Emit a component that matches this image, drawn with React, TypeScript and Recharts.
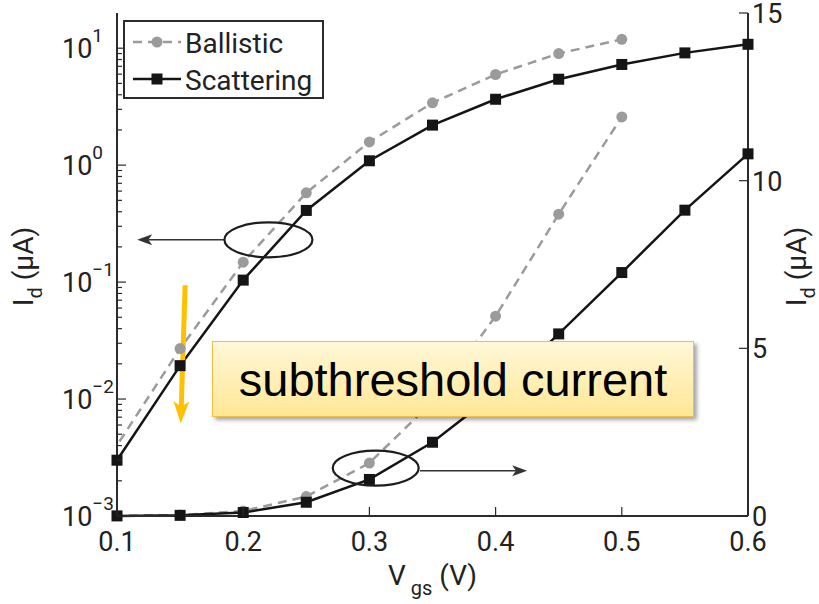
import React from 'react';
import { LineChart, Line, XAxis, YAxis, ReferenceDot, ReferenceLine } from 'recharts';

// gate voltage (V) and drain current (uA); each series is drawn on the log (left)
// and the linear (right) axis
const vgs = [0.1, 0.15, 0.2, 0.25, 0.3, 0.35, 0.4, 0.45, 0.5, 0.55, 0.6];
const scattering = [0.003, 0.0193, 0.104, 0.41, 1.09, 2.2, 3.66, 5.43, 7.26, 9.12, 10.8];
// ballistic run starts left of the plotted range, its first segment is clipped
const ballisticVgs = [0.05, 0.15, 0.2, 0.25, 0.3, 0.35, 0.4, 0.45, 0.5];
const ballistic = [0.0006, 0.027, 0.148, 0.58, 1.58, 3.41, 5.96, 9.0, 11.9];

const xTicks = [0.1, 0.2, 0.3, 0.4, 0.5, 0.6];
const logMajor = [0.001, 0.01, 0.1, 1, 10];
const logExp = ['\u22123', '\u22122', '\u22121', '0', '1'];
const linTicks = [0, 5, 10, 15];

const X_DOMAIN: [number, number] = [0.1, 0.6];
const LOG_DOMAIN: [number, number] = [0.001, 20];
const LIN_DOMAIN: [number, number] = [0, 15];
const logMinor = logMajor
  .flatMap(d => [2, 3, 4, 5, 6, 7, 8, 9].map(k => +(k * d).toPrecision(3)))
  .filter(v => v < LOG_DOMAIN[1]);
const logTicks = [...logMajor, ...logMinor].sort((a, b) => a - b);

const scatteringData = vgs.map((v, i) => ({ vgs: v, value: scattering[i] }));
const ballisticData = ballisticVgs.map((v, i) => ({ vgs: v, value: ballistic[i] }));

const FONT = 'Roboto, "Liberation Sans", sans-serif';
const AXIS = '#2b2b2b';
const GREY = '#9b9b9b';
const BLACK = '#151515';

const series = [
  { key: 'ballistic', name: 'Ballistic', color: GREY, dash: '9 6', marker: 'circle' },
  { key: 'scattering', name: 'Scattering', color: BLACK, dash: undefined, marker: 'square' },
];

const Marker = ({ cx, cy, kind, color }: any) => {
  if (cx == null || cy == null || isNaN(cy)) return <g />;
  if (kind === 'square')
    return <rect x={cx - 5.5} y={cy - 5.5} width={11} height={11} fill={color} />;
  return <circle cx={cx} cy={cy} r={5.5} fill={color} />;
};

const LeftTick = ({ x, y, payload }: any) => {
  const i = logMajor.indexOf(payload.value);
  const major = i >= 0;
  return (
    <g>
      <line x1={x} x2={x + (major ? 9 : 5)} y1={y} y2={y} stroke={AXIS} strokeWidth={1.2} />
      {major && (
        <text x={x - 55} y={y + 10} fontFamily={FONT} fontSize={27} fill="#222">
          10
          <tspan dy={-16} fontSize={19}>{logExp[i]}</tspan>
        </text>
      )}
    </g>
  );
};

const RightMinorTick = ({ x, y, payload }: any) => {
  const major = logMajor.includes(payload.value);
  return <line x1={x} x2={x - (major ? 9 : 5)} y1={y} y2={y} stroke={AXIS} strokeWidth={1.2} />;
};

const RightTick = ({ x, y, payload }: any) => (
  <g>
    <line x1={x} x2={x - 9} y1={y} y2={y} stroke={AXIS} strokeWidth={1.2} />
    <text x={x + 4} y={y + 10} fontFamily={FONT} fontSize={27} fill="#222">
      {payload.value}
    </text>
  </g>
);

const BottomTick = ({ x, y, payload }: any) => (
  <g>
    <line x1={x} x2={x} y1={y} y2={y - 9} stroke={AXIS} strokeWidth={1.2} />
    <text x={x} y={y + 35} textAnchor="middle" fontFamily={FONT} fontSize={27} fill="#222">
      {String(payload.value)}
    </text>
  </g>
);

const IdLabel = (dxBase: number) => ({ viewBox }: any) => {
  const bx = viewBox.x + dxBase;
  const cy = viewBox.y + viewBox.height / 2 + 2;
  return (
    <text
      x={bx}
      y={cy}
      transform={`rotate(-90, ${bx}, ${cy})`}
      textAnchor="middle"
      fontFamily={FONT}
      fontSize={28}
      fill="#222"
    >
      I
      <tspan dy={9} fontSize={20}>d</tspan>
      <tspan dy={-9}> (μA)</tspan>
    </text>
  );
};

const VgsLabel = ({ viewBox }: any) => (
  <text
    x={viewBox.x + viewBox.width / 2}
    y={viewBox.y + 69}
    textAnchor="middle"
    fontFamily={FONT}
    fontSize={28}
    fill="#222"
  >
    V
    <tspan dx={5} dy={10} fontSize={20}>gs</tspan>
    <tspan dy={-10}> (V)</tspan>
  </text>
);

const arrow =
  (color: string, width: number, headLen: number, headW: number) =>
  (p: any) => {
    const { x1, y1, x2, y2 } = p;
    const dx = x2 - x1;
    const dy = y2 - y1;
    const len = Math.hypot(dx, dy) || 1;
    const ux = dx / len;
    const uy = dy / len;
    const nx = -uy;
    const ny = ux;
    const bx = x2 - ux * headLen;
    const by = y2 - uy * headLen;
    const mx = bx + ux * headLen * 0.25;
    const my = by + uy * headLen * 0.25;
    return (
      <g>
        <line x1={x1} y1={y1} x2={mx} y2={my} stroke={color} strokeWidth={width} />
        <polygon
          points={`${x2},${y2} ${bx + (nx * headW) / 2},${by + (ny * headW) / 2} ${mx},${my} ${
            bx - (nx * headW) / 2
          },${by - (ny * headW) / 2}`}
          fill={color}
        />
      </g>
    );
  };

const ellipse = (rx: number, ry: number) => (p: any) =>
  <ellipse cx={p.cx} cy={p.cy} rx={rx} ry={ry} fill="none" stroke="#1d1d1d" strokeWidth={2.2} />;

function Legend() {
  return (
    <svg
      width={201}
      height={79}
      style={{ position: 'absolute', left: 123, top: 20 }}
    >
      <rect x={1} y={1} width={199} height={77} fill="#fff" stroke="#2b2b2b" strokeWidth={2} />
      {series.map((s, i) => {
        const cy = 22 + i * 37;
        return (
          <g key={s.key}>
            <line x1={10} x2={58} y1={cy} y2={cy} stroke={s.color} strokeWidth={2.5} strokeDasharray={s.dash} />
            <Marker cx={34} cy={cy} kind={s.marker} color={s.color} />
            <text x={62} y={cy + 11} fontFamily={FONT} fontSize={28} fill="#222">
              {s.name}
            </text>
          </g>
        );
      })}
    </svg>
  );
}

const seriesLine = (s: (typeof series)[number], data: any[], xId: string | number, yId: string) => (
  <Line
    key={`${yId}-${s.key}`}
    data={data}
    xAxisId={xId}
    yAxisId={yId}
    dataKey="value"
    name={s.name}
    stroke={s.color}
    strokeWidth={2.5}
    strokeDasharray={s.dash}
    dot={(p: any) => (
      <Marker key={`${yId}-${s.key}-${p.index}`} cx={p.cx} cy={p.cy} kind={s.marker} color={s.color} />
    )}
    activeDot={false}
    isAnimationActive={false}
  />
);

export default function App() {
  return (
    <div style={{ position: 'absolute', left: 0, top: 0, width: 819, height: 604, background: '#fff' }}>
      <LineChart width={819} height={604} margin={{ top: 13, right: 0, bottom: 0, left: 0 }}>
        <XAxis
          dataKey="vgs"
          type="number"
          domain={X_DOMAIN}
          ticks={xTicks}
          interval={0}
          height={88}
          tickSize={0}
          tickMargin={0}
          tickLine={false}
          tick={(p: any) => <BottomTick {...p} />}
          axisLine={{ stroke: AXIS, strokeWidth: 2 }}
          label={{ content: VgsLabel }}
        />
        <XAxis
          xAxisId="top"
          orientation="top"
          type="number"
          domain={X_DOMAIN}
          height={0}
          tick={false}
          tickLine={false}
          axisLine={{ stroke: AXIS, strokeWidth: 2 }}
        />
        <XAxis xAxisId="bx" dataKey="vgs" type="number" domain={X_DOMAIN} allowDataOverflow height={0} hide />
        <YAxis
          yAxisId="left"
          scale="log"
          type="number"
          domain={LOG_DOMAIN}
          ticks={logTicks}
          interval={0}
          width={117}
          tickSize={0}
          tickMargin={0}
          tickLine={false}
          tick={(p: any) => <LeftTick {...p} />}
          axisLine={{ stroke: AXIS, strokeWidth: 2 }}
          label={{ content: IdLabel(33) }}
        />
        <YAxis
          yAxisId="rightMinor"
          orientation="right"
          mirror
          scale="log"
          type="number"
          domain={LOG_DOMAIN}
          ticks={logTicks}
          interval={0}
          width={0}
          tickSize={0}
          tickMargin={0}
          tickLine={false}
          tick={(p: any) => <RightMinorTick {...p} />}
          axisLine={false}
        />
        <YAxis
          yAxisId="right"
          orientation="right"
          type="number"
          domain={LIN_DOMAIN}
          ticks={linTicks}
          interval={0}
          width={71}
          tickSize={0}
          tickMargin={0}
          tickLine={false}
          tick={(p: any) => <RightTick {...p} />}
          axisLine={{ stroke: AXIS, strokeWidth: 2 }}
          label={{ content: IdLabel(58) }}
        />
        <YAxis yAxisId="bl" scale="log" type="number" domain={LOG_DOMAIN} allowDataOverflow width={0} mirror hide />
        <YAxis
          yAxisId="br"
          orientation="right"
          type="number"
          domain={LIN_DOMAIN}
          allowDataOverflow
          width={0}
          mirror
          hide
        />

        {seriesLine(series[0], ballisticData, 'bx', 'bl')}
        {seriesLine(series[0], ballisticData, 'bx', 'br')}
        {seriesLine(series[1], scatteringData, 0, 'left')}
        {seriesLine(series[1], scatteringData, 0, 'right')}

        <ReferenceDot yAxisId="left" x={0.22} y={0.23} r={1} shape={ellipse(44, 17.5)} />
        <ReferenceLine
          yAxisId="left"
          segment={[{ x: 0.185, y: 0.23 }, { x: 0.116, y: 0.23 }]}
          shape={arrow('#333', 1.6, 15, 11)}
        />
        <ReferenceDot yAxisId="right" x={0.305} y={1.43} r={1} shape={ellipse(43, 17.5)} />
        <ReferenceLine
          yAxisId="right"
          segment={[{ x: 0.34, y: 1.35 }, { x: 0.425, y: 1.35 }]}
          shape={arrow('#333', 1.6, 15, 11)}
        />
        <ReferenceLine
          yAxisId="left"
          segment={[{ x: 0.154, y: 0.094 }, { x: 0.1505, y: 0.0062 }]}
          shape={arrow('#FFC000', 5, 22, 16)}
        />
      </LineChart>
      <Legend />
      <div
        style={{
          position: 'absolute',
          left: 212,
          top: 341,
          width: 480,
          height: 74,
          border: '1.5px solid #F3BE48',
          background: 'linear-gradient(#FFF8D8, #FFE795)',
          boxShadow: '3px 3px 4px rgba(0,0,0,0.35)',
          display: 'flex',
          alignItems: 'center',
          justifyContent: 'center',
          fontFamily: '"Liberation Sans", Arial, sans-serif',
          fontSize: 47,
          color: '#000',
        }}
      >
        subthreshold current
      </div>
    </div>
  );
}
